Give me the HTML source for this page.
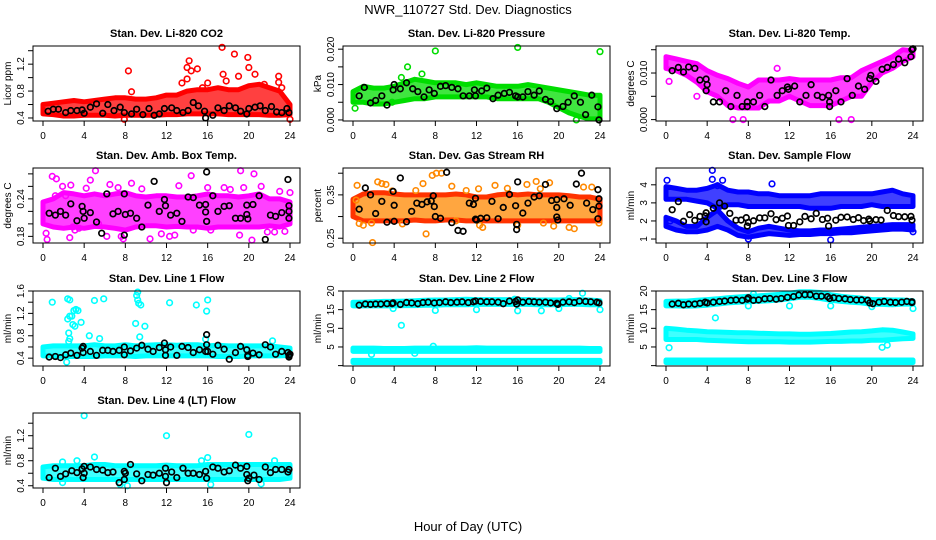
<!DOCTYPE html>
<html><head><meta charset="utf-8">
<style>
html,body{margin:0;padding:0;background:#fff;}
svg{display:block;font-family:"Liberation Sans",Arial,sans-serif;}
</style></head>
<body>
<svg id="chart" width="936" height="540" viewBox="0 0 936 540" xmlns="http://www.w3.org/2000/svg">
<rect width="936" height="540" fill="#fff"/>
<text x="468" y="14" text-anchor="middle" font-size="13">NWR_110727  Std. Dev. Diagnostics</text>
<text x="468" y="531" text-anchor="middle" font-size="13">Hour of Day (UTC)</text>
<g id="panels"></g>
</svg>
<script>
// shared hour grid for envelope (dense cloud) data
const hours = [0,1,2,3,4,5,6,7,8,9,10,11,12,13,14,15,16,17,18,19,20,21,22,23,24];
const xTicks = [0,4,8,12,16,20,24];

// ---- CO2 ----
const co2Low = [0.46,0.45,0.43,0.43,0.44,0.44,0.44,0.43,0.44,0.44,0.44,0.44,0.45,0.45,0.46,0.46,0.46,0.46,0.45,0.45,0.45,0.45,0.44,0.44,0.45];
const co2High = [0.6,0.62,0.64,0.66,0.64,0.66,0.68,0.7,0.7,0.68,0.68,0.7,0.74,0.74,0.8,0.82,0.82,0.85,0.82,0.82,0.88,0.9,0.85,0.8,0.6];
const co2OutX = [8.3,8.6,14.2,14,14.4,15,13.5,14,17.4,18.6,19.9,20,20.6,19,22.9,22.9,16,17.5,17.8,15.5,21.5,7.9,24,23.2];
const co2OutY = [1.1,0.79,1.25,1.15,1.1,1.13,0.92,0.98,1.45,1.35,1.3,1.15,1.05,1.02,1.02,0.93,0.92,1.05,0.95,0.85,0.9,0.38,0.38,0.85];
const co2BlkX = [0.5,1,1.5,2.2,2.7,3.3,3.8,4,4.6,5.2,5.8,6.3,6.9,7.5,7.9,8.6,9.1,9.7,10.3,10.8,11.3,11.8,12.5,13,13.6,14.1,14.6,15.1,15.7,15.8,16.5,17,17.6,18.1,18.7,19.2,19.8,20,20.6,21.1,21.6,22.2,22.7,23.2,23.7,23.9];
const co2BlkY = [0.5,0.53,0.53,0.48,0.51,0.51,0.52,0.47,0.56,0.61,0.47,0.6,0.51,0.56,0.48,0.46,0.53,0.45,0.54,0.44,0.46,0.54,0.55,0.51,0.48,0.51,0.63,0.58,0.5,0.4,0.44,0.55,0.51,0.58,0.55,0.5,0.46,0.54,0.56,0.58,0.51,0.57,0.49,0.48,0.54,0.48];
const co2Ticks = [0.4,0.6,0.8,1.0,1.2,1.4];
const co2TickLabels = ["0.4","","0.8","","1.2",""];

// ---- Pressure ----
const presLow = [0.005,0.005,0.0045,0.0045,0.005,0.0055,0.006,0.006,0.0065,0.0065,0.0065,0.0065,0.0065,0.0065,0.006,0.006,0.006,0.006,0.006,0.005,0.0035,0.002,0.001,0.0003,0.0003];
const presHigh = [0.008,0.0095,0.009,0.009,0.0095,0.0105,0.0115,0.011,0.0105,0.0105,0.0105,0.01,0.0105,0.01,0.0095,0.0095,0.0095,0.01,0.0095,0.009,0.0085,0.008,0.0075,0.007,0.007];
const presOutX = [8,16,24,5.3,6.7,0.2,21.7,4.7,3.8];
const presOutY = [0.0195,0.0205,0.0193,0.015,0.013,0.0033,0.0,0.012,0.005];
const presBlkX = [0.6,1.1,1.7,2.2,2.8,3.3,3.9,4,4.6,5.2,5.8,6.3,6.9,7.4,7.9,8.5,9,9.6,10.2,10.7,11.3,11.8,11.9,12.5,13,13.6,14.1,14.7,15.2,15.8,16,16.5,17,17.6,18.1,18.7,19.2,19.8,20.4,20.9,21.5,22.1,22.6,23.2,23.8,23.9];
const presBlkY = [0.0068,0.0092,0.0048,0.0055,0.0068,0.0042,0.0085,0.01,0.0088,0.0105,0.0088,0.008,0.0065,0.0085,0.0075,0.0095,0.0097,0.0092,0.0088,0.0068,0.0068,0.0085,0.0068,0.0082,0.009,0.006,0.007,0.0075,0.0078,0.0068,0.0065,0.0065,0.008,0.007,0.0082,0.0058,0.0052,0.0032,0.0038,0.005,0.0068,0.005,0.0015,0.007,0.0037,0.0];
const presTicks = [0,0.005,0.01,0.015,0.02];
const presTickLabels = ["0.000","","0.010","","0.020"];

// ---- Li-820 Temp ----
const tempLow = [0.011,0.0105,0.0095,0.008,0.006,0.005,0.003,0.0025,0.0025,0.0025,0.004,0.004,0.005,0.004,0.003,0.003,0.003,0.004,0.005,0.005,0.008,0.01,0.011,0.0125,0.0135];
const tempHigh = [0.0135,0.013,0.0125,0.012,0.0105,0.0095,0.0088,0.0078,0.007,0.0085,0.0085,0.0085,0.0088,0.0085,0.0085,0.0085,0.0085,0.009,0.009,0.0105,0.0115,0.0125,0.0135,0.015,0.0148];
const tempOutX = [6.5,7.5,16.8,18,10.8,0.3,3];
const tempOutY = [0.0,0.0,0.0,0.0,0.011,0.0082,0.005];
const tempBlkX = [0.6,1.2,1.7,2.2,2.8,3.3,3.9,3.9,4,4.6,5.2,5.8,6.3,6.9,7.4,7.9,7.9,8.5,9.1,9.6,10.2,10.8,11.3,11.8,11.9,12.5,13,13.6,14.1,14.7,15.2,15.8,15.9,15.9,16.5,17,17.6,18.1,18.7,19.3,19.8,19.9,20.4,21,21.5,22.1,22.6,23.2,23.8,23.9,24];
const tempBlkY = [0.0105,0.0112,0.0102,0.0113,0.011,0.0085,0.0087,0.0062,0.0075,0.0038,0.0038,0.0062,0.0028,0.0052,0.0028,0.0028,0.0038,0.0038,0.0052,0.0028,0.0085,0.0052,0.0062,0.007,0.0065,0.0072,0.0038,0.0052,0.0075,0.0052,0.0048,0.0052,0.0038,0.0028,0.0062,0.0038,0.0088,0.0052,0.0072,0.0065,0.0088,0.0095,0.0082,0.0108,0.0112,0.0118,0.013,0.0122,0.0135,0.015,0.0152];
const tempTicks = [0,0.005,0.01,0.015];
const tempTickLabels = ["0.000","","0.010",""];

// ---- Amb Box Temp ----
const ambLow = [0.2,0.195,0.193,0.195,0.193,0.196,0.195,0.193,0.19,0.195,0.197,0.197,0.195,0.196,0.195,0.195,0.193,0.195,0.195,0.195,0.195,0.195,0.197,0.195,0.2];
const ambHigh = [0.235,0.24,0.25,0.248,0.245,0.248,0.245,0.248,0.25,0.245,0.243,0.245,0.245,0.243,0.243,0.245,0.248,0.245,0.245,0.243,0.245,0.248,0.24,0.24,0.235];
const ambOutX = [0.3,0.4,1.2,1.3,1.9,2.2,2.6,2.7,3.1,3.5,4.2,4.6,5.1,5.4,6.2,6.5,7.3,7.6,7.8,8.6,9.6,10.4,11.5,12.3,12.8,13.2,14.4,14.6,16,16.3,17.6,18.2,19.1,19.5,19.2,20.3,20.5,21.2,21.8,22.5,23,23.5,24,0.9,2.9];
const ambOutY = [0.185,0.175,0.245,0.272,0.26,0.245,0.178,0.262,0.19,0.193,0.257,0.27,0.285,0.2,0.18,0.263,0.258,0.18,0.176,0.265,0.256,0.176,0.184,0.18,0.182,0.261,0.277,0.19,0.258,0.19,0.258,0.255,0.182,0.258,0.285,0.174,0.28,0.26,0.187,0.187,0.252,0.188,0.25,0.276,0.195];
const ambBlkX = [0.6,1.2,1.7,2.2,2.7,3.3,3.8,3.9,4,4.6,5.2,5.7,6.2,6.8,7.3,7.9,7.9,8,8.5,9.1,9.6,10.2,10.8,11.3,11.8,11.9,12.4,13,13.5,14.1,14.6,15.2,15.8,15.8,15.9,15.9,16.5,17,17.6,18.1,18.7,19.2,19.8,19.8,19.9,20.4,21,21.6,22.1,22.6,23.2,23.8,23.9,23.9,23.9];
const ambBlkY = [0.217,0.214,0.22,0.214,0.232,0.205,0.228,0.22,0.209,0.218,0.203,0.185,0.248,0.216,0.22,0.182,0.248,0.215,0.217,0.209,0.195,0.23,0.268,0.22,0.239,0.229,0.214,0.217,0.204,0.243,0.242,0.23,0.231,0.219,0.204,0.283,0.245,0.22,0.228,0.229,0.209,0.209,0.23,0.215,0.208,0.231,0.245,0.175,0.214,0.212,0.218,0.271,0.22,0.229,0.209];
const ambTicks = [0.18,0.2,0.22,0.24,0.26,0.28];
const ambTickLabels = ["0.18","","","0.24","",""];

// ---- Gas Stream RH ----
const rhLow = [0.3,0.29,0.29,0.29,0.29,0.29,0.292,0.29,0.29,0.292,0.292,0.29,0.29,0.29,0.29,0.29,0.29,0.29,0.29,0.29,0.29,0.29,0.29,0.29,0.29];
const rhHigh = [0.34,0.352,0.355,0.355,0.352,0.35,0.35,0.35,0.35,0.35,0.352,0.35,0.345,0.345,0.35,0.352,0.35,0.352,0.35,0.35,0.35,0.348,0.345,0.345,0.34];
const rhOutX = [0.3,0.4,0.6,1,1.8,1.9,2.4,2.8,3.2,3.8,4.8,6.1,6.8,7.1,7.7,8.1,8.6,9.6,10,11,12.2,12.3,12.6,13.8,15,16,16.9,17.8,18.2,18.5,19.1,19.5,21,21.5,22.4,23.2,23.9];
const rhOutY = [0.338,0.372,0.284,0.28,0.285,0.24,0.38,0.376,0.374,0.359,0.283,0.36,0.376,0.26,0.395,0.4,0.4,0.37,0.29,0.36,0.364,0.28,0.275,0.372,0.365,0.28,0.374,0.381,0.364,0.285,0.378,0.278,0.275,0.272,0.368,0.368,0.285];
const rhBlkX = [0.6,1.2,1.7,2.2,2.8,3.3,3.9,4,4,4.6,5.2,5.7,6.2,6.7,7.2,7.6,7.8,7.9,8,8.5,9.1,9.6,10.2,10.7,11.3,11.7,11.9,11.9,12,12.4,13,13.5,14.1,14.6,15.2,15.8,15.9,15.9,16,16.5,17,17.6,18.1,18.7,19.3,19.8,19.8,19.9,19.8,20.5,21.1,21.7,22.2,22.7,23.3,23.8,23.9,23.9,23.8];
const rhBlkY = [0.317,0.366,0.35,0.307,0.335,0.287,0.358,0.326,0.289,0.389,0.288,0.312,0.331,0.328,0.334,0.336,0.348,0.323,0.3,0.296,0.402,0.286,0.268,0.266,0.331,0.328,0.342,0.294,0.292,0.296,0.297,0.335,0.295,0.321,0.351,0.325,0.282,0.27,0.38,0.308,0.331,0.345,0.348,0.374,0.337,0.339,0.299,0.292,0.321,0.341,0.326,0.375,0.4,0.331,0.316,0.362,0.341,0.324,0.295];
const rhTicks = [0.25,0.3,0.35,0.4];
const rhTickLabels = ["0.25","","0.35",""];

// ---- Sample Flow ----
const sfUpLow = [3.2,3.2,3.2,3.1,3.0,2.7,2.9,2.9,2.8,2.8,2.8,2.8,2.8,2.8,2.7,2.7,2.7,2.8,2.8,2.8,2.9,2.8,2.8,2.8,2.8];
const sfUpHigh = [3.9,3.8,3.7,3.7,3.8,4.0,3.7,3.6,3.6,3.5,3.5,3.4,3.4,3.4,3.4,3.5,3.5,3.5,3.5,3.5,3.5,3.6,3.7,3.5,3.4];
const sfLoLow = [1.7,1.5,1.4,1.4,1.5,1.7,1.5,1.2,1.1,1.2,1.3,1.25,1.2,1.25,1.25,1.3,1.3,1.35,1.35,1.4,1.45,1.5,1.55,1.55,1.5];
const sfLoHigh = [2.2,2.0,1.7,1.7,2.2,2.6,2.0,1.6,1.4,1.6,1.7,1.6,1.5,1.45,1.45,1.5,1.5,1.55,1.6,1.65,1.7,1.75,1.8,1.8,1.8];
const sfOutX = [0.1,4.5,4.5,5.5,10.3,8,16,24,5,0.4];
const sfOutY = [4.25,4.8,4.3,4.25,4.05,1.0,0.95,1.4,3.95,2.0];
const sfBlkX = [0.6,1.2,1.7,2.3,2.8,3.3,3.8,3.9,3.9,4.6,5.2,5.7,6.2,6.8,7.3,7.8,7.9,8,8.5,9.1,9.6,10.2,10.7,11.3,11.8,11.9,12.4,13,13.5,14.1,14.6,15.2,15.7,15.8,16.5,17,17.6,18.2,18.7,19.2,19.7,19.8,20.4,20.9,21.5,22.1,22.6,23.2,23.8,23.9];
const sfBlkY = [2.62,3.07,1.98,2.35,2.03,2.25,2.28,2.45,1.95,2.7,3.0,2.82,2.42,2.04,2.05,2.18,1.72,1.92,2.01,2.17,2.17,2.4,2.07,2.15,2.27,1.75,1.75,1.95,2.25,2.12,2.42,2.08,2.15,1.72,2.04,2.2,2.22,2.08,2.18,2.02,2.1,2.0,2.07,2.05,2.58,2.3,2.24,2.23,2.25,2.05];
const sfTicks = [1,2,3,4];
const sfTickLabels = ["1","2","3","4"];

// ---- Line 1 Flow ----
const l1Low = [0.44,0.44,0.43,0.43,0.43,0.43,0.44,0.44,0.44,0.43,0.44,0.44,0.44,0.44,0.44,0.44,0.44,0.43,0.43,0.43,0.44,0.44,0.44,0.44,0.45];
const l1High = [0.6,0.62,0.62,0.62,0.62,0.64,0.62,0.62,0.64,0.62,0.63,0.64,0.64,0.63,0.64,0.64,0.62,0.63,0.62,0.62,0.62,0.62,0.62,0.6,0.58];
const l1OutX = [0.9,2.4,2.6,2.4,2.6,2.8,3,3.2,3.4,2.9,3.1,3.7,2.5,2.6,2.5,5,5.9,9.2,9.1,9.2,9.3,9.5,9,9.9,12.3,14.9,16,15.9,2.3,4.5,5.5,9.4,15.8,22.3];
const l1OutY = [1.4,1.46,1.44,1.1,1.15,1.15,1.25,1.27,1.25,1.0,0.97,1.04,0.85,0.75,0.7,1.43,1.46,1.58,1.52,1.44,1.38,1.35,1.02,0.97,1.39,1.35,1.44,1.24,0.33,0.8,0.75,0.78,0.74,0.71];
const l1BlkX = [0.6,1.2,1.7,2.2,2.7,3.3,3.8,3.9,3.9,4.6,5.2,5.8,6.3,6.8,7.4,7.9,7.9,8.5,9.1,9.6,10.2,10.7,11.3,11.8,11.9,11.9,12.4,13,13.5,14.1,14.6,15.2,15.8,15.9,15.9,16,16.5,17,17.6,18.1,18.7,19.2,19.8,19.9,19.9,20.4,21,21.6,22.1,22.6,23.2,23.8,23.9,23.9,24];
const l1BlkY = [0.42,0.43,0.41,0.46,0.49,0.45,0.58,0.61,0.5,0.52,0.45,0.54,0.54,0.52,0.54,0.6,0.46,0.53,0.58,0.63,0.56,0.52,0.59,0.67,0.55,0.45,0.6,0.45,0.61,0.59,0.5,0.55,0.52,0.64,0.82,0.52,0.47,0.63,0.56,0.38,0.5,0.61,0.55,0.45,0.43,0.49,0.46,0.64,0.6,0.47,0.52,0.5,0.45,0.42,0.47];
const l1Ticks = [0.4,0.6,0.8,1.0,1.2,1.4,1.6];
const l1TickLabels = ["0.4","","0.8","","1.2","","1.6"];

// ---- Line 2 Flow ----
const l2TopLow = [16,16,16,16,16,16.1,16.1,16.2,16.2,16.3,16.3,16.3,16.4,16.4,16.4,16.4,16.4,16.4,16.3,16.3,16.3,16.4,16.4,16.3,16.3];
const l2TopHigh = [17,17,17.1,17.2,17.2,17.3,17.4,17.5,17.6,17.6,17.7,17.8,17.7,17.7,17.7,17.7,17.7,17.7,17.6,17.6,17.6,17.7,17.7,17.6,17.4];
const l2MidLow = [3.8,3.8,3.8,3.8,3.8,3.8,3.8,3.8,3.8,3.8,3.8,3.8,3.8,3.8,3.8,3.8,3.8,3.8,3.8,3.8,3.8,3.8,3.8,3.8,3.8];
const l2MidHigh = [4.7,4.7,4.7,4.6,4.6,4.6,4.7,4.7,4.7,4.7,4.7,4.7,4.8,4.7,4.7,4.7,4.7,4.7,4.7,4.7,4.7,4.7,4.7,4.6,4.6];
const l2BotLow = [0.8,0.8,0.8,0.8,0.8,0.8,0.8,0.8,0.8,0.8,0.8,0.8,0.8,0.8,0.8,0.8,0.8,0.8,0.8,0.8,0.8,0.8,0.8,0.8,0.8];
const l2BotHigh = [1.4,1.4,1.4,1.4,1.4,1.4,1.4,1.4,1.4,1.4,1.4,1.4,1.4,1.4,1.4,1.4,1.4,1.4,1.4,1.4,1.4,1.4,1.4,1.4,1.4];
const l2OutX = [4.7,22.3,24,8,12,16,18.3,1.8,6,7.8,3.9,20,21,15.7];
const l2OutY = [10.8,19.4,15,14.8,15,14.7,14.7,3.0,3.3,5.2,15.3,15.3,18,17.8];
const l2BlkX = [0.6,1.2,1.7,2.2,2.7,3.3,3.8,3.9,4.6,5.2,5.7,6.3,6.8,7.3,7.9,8.4,9,9.5,10.1,10.6,11.2,11.7,11.9,12.4,13,13.5,14.1,14.6,15.2,15.8,15.9,16,16.5,17.1,17.6,18.1,18.7,19.2,19.8,19.9,20.4,21,21.5,22,22.6,23.1,23.7,23.9];
const l2BlkY = [16.2,16.5,16.4,16.5,16.5,16.6,16.6,16.8,16.4,16.9,16.8,16.6,16.9,17.0,16.8,16.9,17.1,16.9,17.0,17.1,16.9,17.1,17.3,17.2,17.1,17.1,17.0,16.6,17.3,17.2,16.5,17.6,17.0,17.2,17.1,17.0,17.0,16.8,16.7,16.4,17.0,17.1,16.9,17.3,17.2,17.1,17.0,16.8];
const flowTicks = [0,5,10,15,20];
const flowTickLabels = ["","5","10","15","20"];

// ---- Line 3 Flow ----
const l3TopLow = [16,16,15.9,16,16.2,16.5,16.8,17,17.1,17.2,17.4,17.6,17.9,18.3,18.3,18,17.5,17.2,17,16.8,16.4,16.4,16.3,16.5,16.5];
const l3TopHigh = [17.2,17.3,17.3,17.5,17.7,17.9,18.2,18.4,18.6,18.7,18.9,19.1,19.4,19.8,19.8,19.6,19.0,18.6,18.3,18.1,17.7,17.7,17.6,17.6,17.4];
const l3MidLow = [7,7,7,7,6.8,6.7,6.6,6.5,6.4,6.4,6.4,6.4,6.3,6.3,6.3,6.4,6.5,6.5,6.6,6.6,6.8,6.8,7,7.2,7.3];
const l3MidHigh = [10,9.8,9.5,9.3,9.1,9,8.9,8.8,8.8,8.7,8.6,8.5,8.5,8.4,8.4,8.5,8.6,8.8,9,9.1,9.3,9.6,9.5,9,8.5];
const l3BotLow = [0.8,0.8,0.8,0.8,0.8,0.8,0.8,0.8,0.8,0.8,0.8,0.8,0.8,0.8,0.8,0.8,0.8,0.8,0.8,0.8,0.8,0.8,0.8,0.8,0.8];
const l3BotHigh = [1.5,1.5,1.5,1.5,1.5,1.5,1.5,1.5,1.5,1.5,1.5,1.5,1.5,1.5,1.5,1.5,1.5,1.5,1.5,1.5,1.5,1.5,1.5,1.5,1.5];
const l3OutX = [4.8,0.3,21,21.5,8,16,12,20,24,8.5];
const l3OutY = [12.8,4.8,4.9,5.5,16,16,16,15.8,15.3,19.2];
const l3BlkX = [0.6,1.2,1.7,2.2,2.8,3.3,3.8,4,4.6,5.2,5.7,6.3,6.8,7.4,7.9,8,8.5,9,9.6,10.1,10.7,11.2,11.8,12.4,12.9,13.5,14,14.6,15.1,15.7,15.9,16.3,16.8,17.4,17.9,18.5,19,19.6,19.8,20.1,20.7,21.2,21.8,22.3,22.9,23.4,23.9,23.9];
const l3BlkY = [16.5,16.7,16.3,16.5,16.5,16.7,17.0,16.8,17.0,17.2,17.3,17.5,17.6,17.5,17.8,18.2,17.5,17.6,17.9,18.0,17.8,18.0,18.3,18.5,18.9,19.0,19.0,18.6,18.6,18.5,18.0,18.2,18.0,17.9,17.7,17.6,17.6,17.5,16.8,16.6,17.0,17.2,17.0,16.9,17.0,17.2,17.1,16.9];

// ---- Line 4 (LT) Flow ----
const l4Low = [0.52,0.5,0.5,0.5,0.5,0.5,0.5,0.5,0.5,0.5,0.5,0.5,0.5,0.5,0.5,0.5,0.5,0.5,0.5,0.5,0.5,0.5,0.5,0.5,0.52];
const l4High = [0.7,0.72,0.72,0.72,0.72,0.74,0.74,0.72,0.72,0.72,0.72,0.72,0.73,0.72,0.72,0.72,0.74,0.74,0.74,0.74,0.74,0.74,0.74,0.74,0.74];
const l4OutX = [4,12,20,1.9,3.3,5,15.4,16,16.3,7.5,8.2,1.9,21.2,22.5];
const l4OutY = [1.52,1.2,1.22,0.78,0.8,0.86,0.8,0.85,0.42,0.42,0.4,0.45,0.43,0.8];
const l4BlkX = [0.6,1.2,1.7,2.2,2.8,3.3,3.8,3.9,4,4,4.6,5.2,5.8,6.3,6.8,7.4,7.9,7.9,8,8.5,9.1,9.6,10.2,10.7,11.3,11.9,11.9,12,12.5,13,13.6,14.1,14.6,15.2,15.8,15.9,16.5,17,17.6,18.1,18.7,19.2,19.8,19.8,19.9,20,20.5,21,21.6,22.1,22.6,23.2,23.8,23.9];
const l4BlkY = [0.53,0.68,0.55,0.59,0.64,0.61,0.67,0.53,0.71,0.6,0.7,0.66,0.65,0.61,0.62,0.45,0.63,0.5,0.6,0.74,0.59,0.48,0.58,0.57,0.6,0.68,0.55,0.45,0.62,0.53,0.68,0.6,0.6,0.58,0.63,0.52,0.7,0.68,0.62,0.64,0.73,0.68,0.71,0.58,0.48,0.52,0.57,0.5,0.7,0.61,0.66,0.66,0.62,0.66];
const l4Ticks = [0.4,0.6,0.8,1.0,1.2,1.4];
const l4TickLabels = ["0.4","","0.8","","1.2",""];

const NS = "http://www.w3.org/2000/svg";
const colLeft = [33, 343, 656];
const rowTop = [46, 168, 291, 413];
const boxW = 267, boxH = 75;

const panels = [
 {key:"co2", title:"Stan. Dev. Li-820 CO2", ylab:"Licor ppm", col:0,row:0, ymin:0.355,ymax:1.47, color:"#ff0000", bands:[[co2Low,co2High]], outX:co2OutX,outY:co2OutY, bx:co2BlkX,by:co2BlkY, ticks:co2Ticks, labels:co2TickLabels},
 {key:"pressure", title:"Stan. Dev. Li-820 Pressure", ylab:"kPa", col:1,row:0, ymin:-0.0003,ymax:0.0209, color:"#00dd00", bands:[[presLow,presHigh]], outX:presOutX,outY:presOutY, bx:presBlkX,by:presBlkY, ticks:presTicks, labels:presTickLabels},
 {key:"li820-temp", title:"Stan. Dev. Li-820 Temp.", ylab:"degrees C", col:2,row:0, ymin:-0.0003,ymax:0.0158, color:"#ff00ff", bands:[[tempLow,tempHigh]], outX:tempOutX,outY:tempOutY, bx:tempBlkX,by:tempBlkY, ticks:tempTicks, labels:tempTickLabels},
 {key:"amb-box-temp", title:"Stan. Dev. Amb. Box Temp.", ylab:"degrees C", col:0,row:1, ymin:0.1694,ymax:0.2894, color:"#ff00ff", bands:[[ambLow,ambHigh]], outX:ambOutX,outY:ambOutY, bx:ambBlkX,by:ambBlkY, ticks:ambTicks, labels:ambTickLabels},
 {key:"gas-rh", title:"Stan. Dev. Gas Stream RH", ylab:"percent", col:1,row:1, ymin:0.239,ymax:0.412, color:"#ff8800", edge:"#ff3300", bands:[[rhLow,rhHigh]], outX:rhOutX,outY:rhOutY, bx:rhBlkX,by:rhBlkY, ticks:rhTicks, labels:rhTickLabels},
 {key:"sample-flow", title:"Stan. Dev. Sample Flow", ylab:"ml/min", col:2,row:1, ymin:0.78,ymax:4.93, color:"#0000ff", bands:[[sfUpLow,sfUpHigh],[sfLoLow,sfLoHigh]], outX:sfOutX,outY:sfOutY, bx:sfBlkX,by:sfBlkY, ticks:sfTicks, labels:sfTickLabels},
 {key:"line1-flow", title:"Stan. Dev. Line 1 Flow", ylab:"ml/min", col:0,row:2, ymin:0.26,ymax:1.6, color:"#00ffff", bands:[[l1Low,l1High]], outX:l1OutX,outY:l1OutY, bx:l1BlkX,by:l1BlkY, ticks:l1Ticks, labels:l1TickLabels},
 {key:"line2-flow", title:"Stan. Dev. Line 2 Flow", ylab:"ml/min", col:1,row:2, ymin:-0.1,ymax:20, color:"#00ffff", bands:[[l2TopLow,l2TopHigh],[l2MidLow,l2MidHigh],[l2BotLow,l2BotHigh]], outX:l2OutX,outY:l2OutY, bx:l2BlkX,by:l2BlkY, ticks:flowTicks, labels:flowTickLabels},
 {key:"line3-flow", title:"Stan. Dev. Line 3 Flow", ylab:"ml/min", col:2,row:2, ymin:-0.1,ymax:20, color:"#00ffff", bands:[[l3TopLow,l3TopHigh],[l3MidLow,l3MidHigh],[l3BotLow,l3BotHigh]], outX:l3OutX,outY:l3OutY, bx:l3BlkX,by:l3BlkY, ticks:flowTicks, labels:flowTickLabels},
 {key:"line4-flow", title:"Stan. Dev. Line 4 (LT) Flow", ylab:"ml/min", col:0,row:3, ymin:0.364,ymax:1.563, color:"#00ffff", bands:[[l4Low,l4High]], outX:l4OutX,outY:l4OutY, bx:l4BlkX,by:l4BlkY, ticks:l4Ticks, labels:l4TickLabels}
];

function mk(tag, attrs, parent){
  const e = document.createElementNS(NS, tag);
  for (const k in attrs) e.setAttribute(k, attrs[k]);
  parent.appendChild(e);
  return e;
}

const root = document.getElementById("panels");
panels.forEach(p => {
  const L = colLeft[p.col], T = rowTop[p.row];
  const xs = h => L + 10 + (h) * (boxW - 20) / 24;
  const ys = v => T + boxH - (v - p.ymin) / (p.ymax - p.ymin) * boxH;
  const g = mk("g", {}, root);
  
  

  const t = mk("text", {x: L + boxW/2, y: T - 9, "text-anchor":"middle", "font-size":"11", "font-weight":"bold"}, g);
  t.textContent = p.title;
  
  

  // envelopes (dense clouds)
  p.bands.forEach(b => {
    const lo = b[0], hi = b[1];
    let pts = [];
    for (let i = 0; i < hours.length; i++) pts.push(xs(hours[i]).toFixed(1) + "," + ys(hi[i]).toFixed(1));
    for (let i = hours.length - 1; i >= 0; i--) pts.push(xs(hours[i]).toFixed(1) + "," + ys(lo[i]).toFixed(1));
    const poly = mk("polygon", {points: pts.join(" "), fill: p.color, "fill-opacity":"0.75", stroke: p.edge || p.color, "stroke-width":"5", "stroke-linejoin":"round"}, g);
    
    
  });
  // sparse colored points
  for (let i = 0; i < p.outX.length; i++) {
    const c = mk("circle", {cx: xs(p.outX[i]), cy: ys(p.outY[i]), r: 2.8, fill:"none", stroke: p.color, "stroke-width":"1.6"}, g);
    
    
  }
  // black points
  for (let i = 0; i < p.bx.length; i++) {
    const c = mk("circle", {cx: xs(p.bx[i]), cy: ys(p.by[i]), r: 2.8, fill:"none", stroke:"#000", "stroke-width":"1.7"}, g);
    
    
  }

  // box
  const box = mk("rect", {x: L, y: T, width: boxW, height: boxH, fill:"none", stroke:"#000", "stroke-width":"1"}, g);
  
  

  // x axis
  const xa = mk("g", {}, g);
  
  
  mk("line", {x1: xs(xTicks[0]), x2: xs(xTicks[xTicks.length-1]), y1: T+boxH, y2: T+boxH, stroke:"#000"}, xa);
  xTicks.forEach(v => {
    mk("line", {x1: xs(v), x2: xs(v), y1: T+boxH, y2: T+boxH+5, stroke:"#000"}, xa);
    const tl = mk("text", {x: xs(v), y: T+boxH+18, "text-anchor":"middle", "font-size":"10"}, xa);
    tl.textContent = v;
    
    
  });

  // y axis
  const ya = mk("g", {}, g);
  
  
  mk("line", {x1: L, x2: L, y1: ys(p.ticks[0]), y2: ys(p.ticks[p.ticks.length-1]), stroke:"#000"}, ya);
  p.ticks.forEach((v, i) => {
    mk("line", {x1: L-5, x2: L, y1: ys(v), y2: ys(v), stroke:"#000"}, ya);
    if (p.labels[i]) {
      const tx = L - 9, ty = ys(v);
      const tl = mk("text", {x: tx, y: ty, "text-anchor":"middle", "font-size":"10", transform:"rotate(-90 " + tx + " " + ty + ")"}, ya);
      tl.textContent = p.labels[i];
      
      
    }
  });
  const lx = L - 22, ly = T + boxH/2;
  const yl = mk("text", {x: lx, y: ly, "text-anchor":"middle", "font-size":"10", transform:"rotate(-90 " + lx + " " + ly + ")"}, g);
  yl.textContent = p.ylab;
  
  
});
</script>
</body></html>
